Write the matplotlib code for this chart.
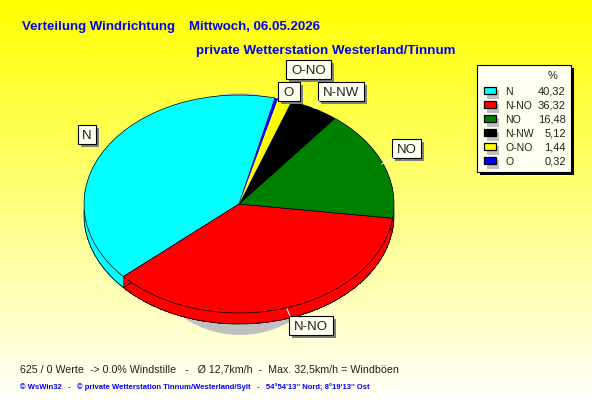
import numpy as np
import matplotlib
matplotlib.use('Agg')
from matplotlib import pyplot as plt
from matplotlib.patches import Ellipse, Rectangle

plt.rcParams['font.family'] = ['Liberation Sans', 'DejaVu Sans']

labels = ['N', 'N-NO', 'NO', 'N-NW', 'O-NO', 'O']
values = [40.32, 36.32, 16.48, 5.12, 1.44, 0.32]
value_text = ['40,32', '36,32', '16,48', '5,12', '1,44', '0,32']
colors = ['#00ffff', '#ff0000', '#008000', '#000000', '#ffff00', '#0000ff']

W, H = 592, 407
fig = plt.figure(figsize=(W / 100, H / 100), dpi=100)

# background, everything in pixel coords from the top left
bg = fig.add_axes([0, 0, 1, 1], zorder=0)
grad = np.zeros((H, 1, 3))
grad[:, 0, 0] = 1
grad[:, 0, 1] = 1
grad[:, 0, 2] = np.linspace(0, 1, H) ** 1.0
bg.imshow(grad, aspect='auto', extent=(0, W, H, 0))
bg.set_xlim(0, W)
bg.set_ylim(H, 0)
bg.axis('off')
bg.add_patch(Ellipse((240, 214), 220, 242, fc='#c0c0c0', ec='none'))

# pie sits in an axes stretched to the ellipse, so it comes out flat
cx, cy, rx, ry = 239, 204, 155, 109
depth = 11
ax = fig.add_axes([(cx - rx) / W, 1 - (cy + ry) / H, 2 * rx / W, 2 * ry / H], zorder=1)
for d in list(range(depth, 0, -1)):
    wedges, _ = ax.pie(values, colors=colors, startangle=76.6, center=(0, -d / ry),
                       wedgeprops=dict(linewidth=0, antialiased=False))
wedges, _ = ax.pie(values, colors=colors, startangle=76.6, center=(0, -depth / ry),
                   wedgeprops=dict(fill=False, edgecolor='black', linewidth=0.6))
wedges, _ = ax.pie(values, colors=colors, startangle=76.6,
                   wedgeprops=dict(edgecolor='black', linewidth=0.5))
# the thin slices would vanish under their outline
wedges[4].set_linewidth(0)
wedges[5].set_linewidth(0)
ax.set_box_aspect(None)
ax.set_aspect('auto')
ax.set_xlim(-1, 1)
ax.set_ylim(-1, 1)
ax.axis('off')

# overlay for labels and legend
ov = fig.add_axes([0, 0, 1, 1], zorder=2)
ov.patch.set_alpha(0)
ov.set_xlim(0, W)
ov.set_ylim(H, 0)
ov.axis('off')

box_fill = '#fffff0'

# callout boxes: x0, x1, y0, y1 and where the white leader line ends
boxes = {'N': (78, 96, 125, 144, None),
         'N-NO': (289, 333, 316, 335, (287, 309)),
         'NO': (392, 421, 139, 158, (382, 164)),
         'N-NW': (318, 364, 82, 101, (314, 108)),
         'O-NO': (286, 331, 60, 79, None),
         'O': (278, 300, 82, 101, None)}
for name in ['O-NO', 'N-NW', 'O', 'NO', 'N-NO', 'N']:
    x0, x1, y0, y1, tip = boxes[name]
    if tip is not None:
        ov.plot([x0 + 1, tip[0]], [(y1 if tip[1] > y1 else y0), tip[1]], color='white', lw=0.8)
    ov.add_patch(Rectangle((x0 + 3, y0 + 3), x1 - x0, y1 - y0, fc='#808080', ec='none'))
    ov.add_patch(Rectangle((x0, y0), x1 - x0, y1 - y0, fc=box_fill, ec='black', lw=0.8))
    ov.text((x0 + x1) / 2, (y0 + y1) / 2, name, fontsize=9.5, ha='center', va='center_baseline',
            color='#202020')

# legend
ov.add_patch(Rectangle((480, 68), 94, 107, fc='black', ec='none'))
ov.add_patch(Rectangle((477, 65), 94, 107, fc=box_fill, ec='black', lw=0.8))
ov.text(553, 75, '%', fontsize=8, ha='center', va='center_baseline', color='#202020')
for i, name in enumerate(labels):
    y = 91 + i * 14
    ov.add_patch(Rectangle((487, y - 1), 12, 9, fc='#c0c0c0', ec='none'))
    ov.add_patch(Rectangle((484, y - 4), 12, 7, fc=colors[i], ec='black', lw=0.9))
    ov.text(505, y, name, fontsize=7.6, ha='left', va='center_baseline', color='#202020')
    ov.text(566, y, value_text[i], fontsize=8, ha='right', va='center_baseline', color='#202020')

# titles and footer
ov.text(22, 30, 'Verteilung Windrichtung', color='#0000ff',
        fontsize=9.5, fontweight='bold', va='baseline')
ov.text(189, 30, 'Mittwoch, 06.05.2026', color='#0000ff',
        fontsize=9.5, fontweight='bold', va='baseline')
ov.text(196, 54, 'private Wetterstation Westerland/Tinnum', color='#0000ff',
        fontsize=9.6, fontweight='bold', va='baseline')
ov.text(20, 369, '625 / 0 Werte  -> 0.0% Windstille   -   Ø 12,7km/h  -  Max. 32,5km/h = Windböen',
        fontsize=7.65, color='#202020', va='center_baseline')
ov.text(20, 386, "© WsWin32   -   © private Wetterstation Tinnum/Westerland/Sylt   -   54°54'13'' Nord; 8°19'13'' Ost",
        fontsize=5.5, fontweight='bold', color='#0000ff', va='center_baseline')

fig.savefig('out.png', dpi=100)
